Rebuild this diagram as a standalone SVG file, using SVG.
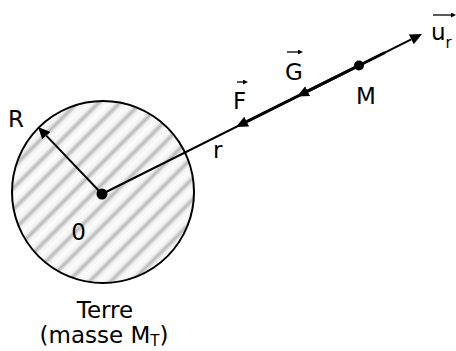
<svg xmlns="http://www.w3.org/2000/svg" width="456" height="351" viewBox="0 0 456 351">
  <style>
    .lbl { font-family: "DejaVu Sans", Verdana, sans-serif; font-size: 23px; fill: #000; }
    .sub { font-size: 15px; }
    .thin { stroke: #000; stroke-width: 2; fill: none; }
    .thick { stroke: #000; stroke-width: 3; fill: none; }
    .vec { stroke: #000; stroke-width: 1.3; fill: none; }
  </style>
  <defs>
    <linearGradient id="stripeGrad" gradientUnits="userSpaceOnUse" x1="0" y1="0" x2="10.6" y2="10.6" spreadMethod="repeat">
      <stop offset="0" stop-color="#fcfcfc"/>
      <stop offset="0.28" stop-color="#f2f2f2"/>
      <stop offset="0.5" stop-color="#b9b9b9"/>
      <stop offset="0.72" stop-color="#f2f2f2"/>
      <stop offset="1" stop-color="#fcfcfc"/>
    </linearGradient>
    <marker id="head" viewBox="0 0 12 11" refX="0" refY="5.5" markerWidth="12" markerHeight="11" markerUnits="userSpaceOnUse" orient="auto">
      <path d="M0,0 L12,5.5 L0,11 z" fill="#000"/>
    </marker>
    <marker id="small" viewBox="0 0 5 5" refX="0" refY="2.5" markerWidth="5" markerHeight="5" markerUnits="userSpaceOnUse" orient="auto">
      <path d="M0,0 L5,2.5 L0,5 z" fill="#000"/>
    </marker>
  </defs>

  <g id="earth">
    <circle cx="103" cy="192" r="91" fill="url(#stripeGrad)" stroke="#000" stroke-width="2"/>
    <text class="lbl" x="8" y="127">R</text>
    <text class="lbl" x="78.5" y="240" text-anchor="middle">0</text>
    <text class="lbl" x="105" y="318" text-anchor="middle">Terre</text>
    <text class="lbl" x="104" y="343" text-anchor="middle">(masse M<tspan class="sub" dy="3">T</tspan><tspan dy="-3">)</tspan></text>
  </g>

  <g id="connectors">
    <line class="thin" x1="102" y1="194" x2="411.27" y2="39.37" marker-end="url(#head)"/>
    <line class="thin" x1="102" y1="194" x2="46.29" y2="135.68" marker-end="url(#head)"/>
    <line class="thick" x1="359" y1="65.5" x2="246.73" y2="121.63" marker-end="url(#head)"/>
    <line class="thick" x1="359" y1="65.5" x2="307.73" y2="91.13" marker-end="url(#head)"/>
    <line class="thick" x1="359" y1="65.5" x2="385" y2="52.5"/>
  </g>

  <g id="center-O">
    <circle cx="102" cy="194" r="5.5" fill="#000"/>
  </g>

  <g id="point-M">
    <circle cx="359" cy="65.5" r="5" fill="#000"/>
    <text class="lbl" x="356" y="104">M</text>
  </g>

  <g id="label-r">
    <text class="lbl" x="213" y="158">r</text>
  </g>

  <g id="vector-F">
    <line class="vec" x1="237" y1="82" x2="243" y2="82" marker-end="url(#small)"/>
    <text class="lbl" x="233" y="109">F</text>
  </g>

  <g id="vector-G">
    <line class="vec" x1="287" y1="52" x2="298" y2="52" marker-end="url(#small)"/>
    <text class="lbl" x="285" y="80">G</text>
  </g>

  <g id="vector-ur">
    <line class="vec" x1="433" y1="15" x2="451" y2="15" marker-end="url(#small)"/>
    <text class="lbl" x="431" y="40">u<tspan class="sub" dy="8">r</tspan></text>
  </g>
</svg>
